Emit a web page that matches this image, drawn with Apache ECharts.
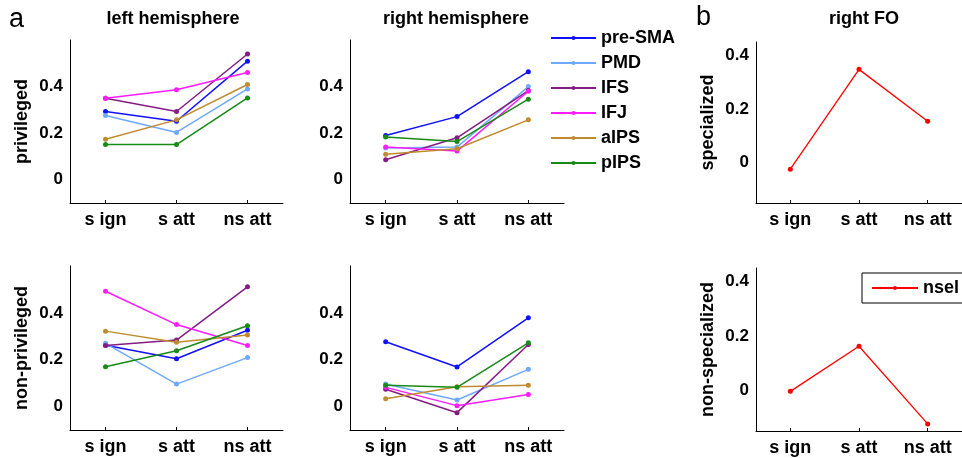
<!DOCTYPE html>
<html>
<head>
<meta charset="utf-8">
<script src="https://cdn.jsdelivr.net/npm/echarts@6/dist/echarts.min.js"></script>
<style>
  html, body { margin: 0; padding: 0; background: #fff; }
  #chart { width: 962px; height: 458px; }
</style>
</head>
<body>
<div id="chart"></div>
<script>
// conditions on the x axis
const categories = ['s ign', 's att', 'ns att']
const regions = ['pre-SMA', 'PMD', 'IFS', 'IFJ', 'aIPS', 'pIPS']
const regionColors = ['#1010ff', '#6fa8ff', '#851c85', '#ff1aff', '#c08a2e', '#178a17']

// values per region, in the order of regions
const leftPrivileged = [
  [0.293, 0.251, 0.509],
  [0.276, 0.203, 0.39],
  [0.35, 0.293, 0.54],
  [0.35, 0.386, 0.46],
  [0.174, 0.257, 0.409],
  [0.151, 0.151, 0.351]
]
const rightPrivileged = [
  [0.19, 0.271, 0.464],
  [0.136, 0.14, 0.40],
  [0.086, 0.18, 0.383],
  [0.14, 0.123, 0.38],
  [0.109, 0.133, 0.257],
  [0.183, 0.164, 0.346]
]
const leftNonPrivileged = [
  [0.262, 0.204, 0.326],
  [0.27, 0.096, 0.209],
  [0.261, 0.284, 0.511],
  [0.492, 0.35, 0.261],
  [0.322, 0.275, 0.305],
  [0.17, 0.238, 0.345]
]
const rightNonPrivileged = [
  [0.277, 0.169, 0.379],
  [0.096, 0.028, 0.159],
  [0.074, -0.026, 0.265],
  [0.082, 0.004, 0.052],
  [0.033, 0.085, 0.091],
  [0.091, 0.082, 0.272]
]
const foSpecialized = [-0.024, 0.348, 0.155]
const foNonSpecialized = [-0.004, 0.162, -0.124]

const yTicksShown = [0, 0.2, 0.4]

const font = 'Liberation Sans, Arial, sans-serif'
const black = '#000'

const grids = [
  { left: 70, top: 40, width: 213, height: 163 },
  { left: 350, top: 40, width: 214, height: 163 },
  { left: 70, top: 266, width: 213, height: 164 },
  { left: 350, top: 266, width: 214, height: 164 },
  { left: 756, top: 42, width: 213, height: 161 },
  { left: 756, top: 268, width: 213, height: 163 }
]

const yNames = ['privileged', '', 'non-privileged', '', 'specialized', 'non-specialized']

const labelFormatter = v => {
  const hit = yTicksShown.find(t => Math.abs(t - v) < 1e-6)
  if (hit === undefined) return ''
  return hit === 0 ? '0' : hit.toFixed(1)
}

const xAxes = grids.map((g, i) => ({
  type: 'category',
  gridIndex: i,
  data: categories,
  boundaryGap: true,
  axisLine: { onZero: false, lineStyle: { color: black, width: 1 } },
  axisTick: { show: true, inside: true, length: 3, alignWithLabel: true, lineStyle: { color: black } },
  axisLabel: { color: black, fontFamily: font, fontWeight: 'bold', fontSize: 18, margin: 8 },
  splitLine: { show: false }
}))

const yAxes = grids.map((g, i) => {
  const fo = i >= 4
  return {
    type: 'value',
    gridIndex: i,
    min: fo ? -0.15 : -0.1,
    max: fo ? 0.45 : 0.6,
    interval: fo ? 0.05 : 0.1,
    name: yNames[i],
    nameLocation: 'middle',
    nameGap: 39,
    nameTextStyle: { color: black, fontFamily: font, fontWeight: 'bold', fontSize: 18 },
    axisLine: { show: true, onZero: false, lineStyle: { color: black, width: 1 } },
    axisTick: { show: false },
    axisLabel: {
      color: black, fontFamily: font, fontWeight: 'bold', fontSize: 17, margin: 7,
      formatter: labelFormatter, showMinLabel: true, showMaxLabel: true
    },
    splitLine: { show: false }
  }
})

const panels = [leftPrivileged, rightPrivileged, leftNonPrivileged, rightNonPrivileged]
const series = []
panels.forEach((panel, p) => {
  panel.forEach((vals, r) => {
    series.push({
      type: 'line',
      name: regions[r],
      xAxisIndex: p,
      yAxisIndex: p,
      data: vals,
      color: regionColors[r],
      symbol: 'circle',
      symbolSize: 5,
      lineStyle: { width: 1.5 }
    })
  })
})
;[foSpecialized, foNonSpecialized].forEach((vals, k) => {
  series.push({
    type: 'line',
    name: 'nsel',
    xAxisIndex: 4 + k,
    yAxisIndex: 4 + k,
    data: vals,
    color: '#ff0000',
    symbol: 'circle',
    symbolSize: 5,
    lineStyle: { width: 1.3 }
  })
})

const textEl = (x, y, text, size, weight) => ({
  type: 'text',
  x: x,
  y: y,
  style: {
    text: text,
    fill: black,
    font: weight + ' ' + size + 'px ' + font,
    textAlign: size > 20 ? 'left' : 'center',
    textVerticalAlign: 'middle'
  }
})

const option = {
  animation: false,
  backgroundColor: '#fff',
  grid: grids,
  xAxis: xAxes,
  yAxis: yAxes,
  legend: [
    {
      data: regions,
      orient: 'vertical',
      left: 550,
      top: 29,
      padding: 0,
      itemWidth: 45,
      itemHeight: 5,
      itemGap: 7,
      selectedMode: false,
      textStyle: { color: black, fontFamily: font, fontWeight: 'bold', fontSize: 18 }
    },
    {
      data: ['nsel'],
      left: 862,
      top: 273,
      padding: [6, 30, 6, 9],
      itemWidth: 46,
      itemHeight: 5,
      borderColor: black,
      borderWidth: 1,
      selectedMode: false,
      textStyle: { color: black, fontFamily: font, fontWeight: 'bold', fontSize: 18 }
    }
  ],
  graphic: [
    textEl(9, 20, 'a', 27, 'normal'),
    textEl(696, 18, 'b', 27, 'normal'),
    textEl(173, 19, 'left hemisphere', 18, 'bold'),
    textEl(456, 19, 'right hemisphere', 18, 'bold'),
    textEl(864, 19, 'right FO', 18, 'bold')
  ],
  series: series
}

const myChart = echarts.init(document.getElementById('chart'))
myChart.setOption(option)
</script>
</body>
</html>
